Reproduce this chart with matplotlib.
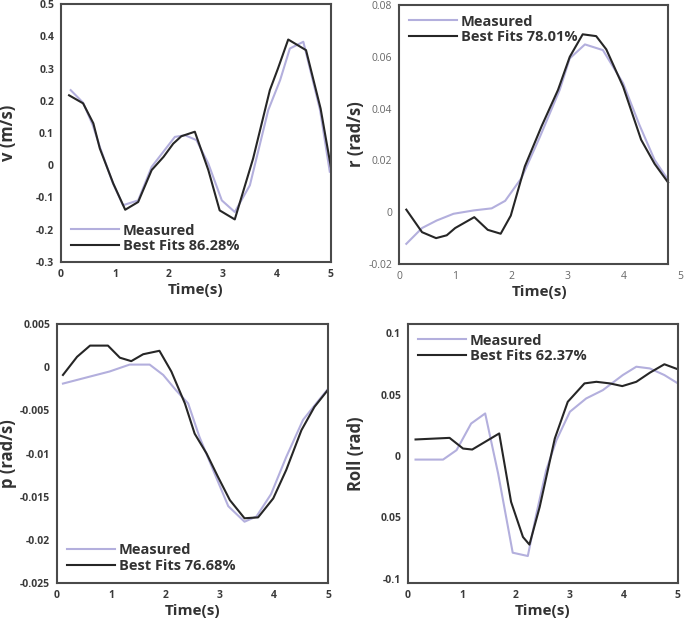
import matplotlib
matplotlib.use('Agg')
import matplotlib.pyplot as plt

plt.rcParams['font.family'] = ['Open Sans', 'DejaVu Sans']

# panel 1: v (m/s)
v_meas_t = [0.18, 0.41, 0.59, 0.72, 0.96, 1.15, 1.43, 1.68, 2.11, 2.30, 2.51, 2.73, 2.98, 3.22, 3.50, 3.84, 4.06, 4.24, 4.49, 4.80, 4.98]
v_meas = [0.233, 0.194, 0.124, 0.057, -0.055, -0.124, -0.109, -0.005, 0.088, 0.093, 0.078, 0.005, -0.109, -0.145, -0.062, 0.171, 0.264, 0.362, 0.383, 0.171, -0.02]
v_fit_t = [0.15, 0.41, 0.60, 0.72, 0.97, 1.19, 1.43, 1.68, 1.90, 2.08, 2.23, 2.48, 2.73, 2.94, 3.22, 3.56, 3.87, 4.02, 4.21, 4.54, 4.81, 5.0]
v_fit = [0.217, 0.192, 0.13, 0.052, -0.057, -0.138, -0.114, -0.015, 0.026, 0.067, 0.09, 0.104, -0.015, -0.14, -0.168, 0.021, 0.233, 0.30, 0.39, 0.357, 0.176, -0.005]

# panel 2: r (rad/s)
r_meas_t = [0.13, 0.41, 0.67, 0.97, 1.33, 1.65, 1.89, 2.18, 2.51, 2.86, 3.04, 3.31, 3.63, 3.99, 4.28, 4.55, 4.79]
r_meas = [-0.0122, -0.0061, -0.0032, -0.0006, 0.0007, 0.0015, 0.0044, 0.0132, 0.0292, 0.0472, 0.0594, 0.0648, 0.0626, 0.0498, 0.0337, 0.0202, 0.0125]
r_fit_t = [0.13, 0.41, 0.66, 0.85, 1.0, 1.34, 1.58, 1.81, 1.99, 2.24, 2.54, 2.83, 3.04, 3.27, 3.51, 3.69, 3.99, 4.31, 4.55, 4.79]
r_fit = [0.001, -0.0077, -0.010, -0.0089, -0.0061, -0.0019, -0.0068, -0.0083, -0.0013, 0.0177, 0.0333, 0.0472, 0.060, 0.0687, 0.068, 0.0629, 0.0485, 0.028, 0.0187, 0.0115]

# panel 3: p (rad/s)
p_meas_t = [0.11, 0.60, 0.97, 1.34, 1.71, 1.96, 2.20, 2.42, 2.63, 2.88, 3.16, 3.46, 3.68, 3.95, 4.23, 4.54, 4.82, 4.99]
p_meas = [-0.0019, -0.0011, -0.0005, 0.0003, 0.0003, -0.0009, -0.0027, -0.0042, -0.0081, -0.0119, -0.0161, -0.0179, -0.0173, -0.0147, -0.0104, -0.0061, -0.0039, -0.0026]
p_fit_t = [0.11, 0.37, 0.61, 0.94, 1.16, 1.37, 1.59, 1.89, 2.11, 2.36, 2.54, 2.76, 2.97, 3.19, 3.46, 3.71, 3.99, 4.23, 4.51, 4.75, 4.99]
p_fit = [-0.0009, 0.0012, 0.0025, 0.0025, 0.0011, 0.0007, 0.0015, 0.0019, -0.0005, -0.0042, -0.0077, -0.0100, -0.0127, -0.0154, -0.0175, -0.0174, -0.0152, -0.0119, -0.0073, -0.0046, -0.0027]

# panel 4: Roll (rad)
roll_meas_t = [0.14, 0.65, 0.90, 1.17, 1.43, 1.67, 1.94, 2.22, 2.38, 2.56, 2.75, 3.0, 3.30, 3.61, 3.98, 4.23, 4.48, 4.75, 5.0]
roll_meas = [-0.0029, -0.0029, 0.0048, 0.0265, 0.0347, -0.0143, -0.0788, -0.0815, -0.0469, -0.0116, 0.0129, 0.0361, 0.0469, 0.0537, 0.066, 0.0728, 0.0714, 0.066, 0.0592]
roll_fit_t = [0.14, 0.77, 1.02, 1.19, 1.69, 1.91, 2.13, 2.25, 2.44, 2.72, 2.96, 3.27, 3.49, 3.74, 3.97, 4.23, 4.48, 4.75, 5.0]
roll_fit = [0.0135, 0.0148, 0.0061, 0.0053, 0.0184, -0.0374, -0.066, -0.0722, -0.0415, 0.0143, 0.0442, 0.0592, 0.0605, 0.0592, 0.057, 0.0605, 0.0679, 0.0748, 0.0707]

x_ticks = [0, 1, 2, 3, 4, 5]
meas_color = '#b3afdd'
fit_color = '#262626'
box_color = '#4a4a4a'

fig = plt.figure(figsize=(6.85, 6.23), dpi=100)

panels = [
    # rect, t_meas, meas, t_fit, fit, ylabel, ylabel x, ylim, yticks, yticklabels, legend text, legend pos, tick weight
    ([0.089, 0.5795, 0.394, 0.414], v_meas_t, v_meas, v_fit_t, v_fit, 'v (m/s)', -0.163,
     (-0.3, 0.5), [-0.3, -0.2, -0.1, 0, 0.1, 0.2, 0.3, 0.4, 0.5],
     ['-0.3', '-0.2', '-0.1', '0', '0.1', '0.2', '0.3', '0.4', '0.5'],
     'Best Fits 86.28%', (0.0, -0.005), 'bold'),
    ([0.5825, 0.5762, 0.410, 0.4157], r_meas_t, r_meas, r_fit_t, r_fit, 'r (rad/s)', -0.121,
     (-0.02, 0.08), [-0.02, 0, 0.02, 0.04, 0.06, 0.08],
     ['-0.02', '0', '0.02', '0.04', '0.06', '0.08'],
     'Best Fits 78.01%', (0.0, 0.81), 'normal'),
    ([0.0832, 0.0642, 0.3956, 0.4157], p_meas_t, p_meas, p_fit_t, p_fit, 'p (rad/s)', -0.148,
     (-0.025, 0.005), [-0.025, -0.02, -0.015, -0.01, -0.005, 0, 0.005],
     ['-0.025', '-0.02', '-0.015', '-0.01', '-0.005', '0', '0.005'],
     'Best Fits 76.68%', (0.0, 0.0), 'bold'),
    ([0.5956, 0.0642, 0.394, 0.4157], roll_meas_t, roll_meas, roll_fit_t, roll_fit, 'Roll (rad)', -0.159,
     (-0.1035, 0.1076), [-0.1, -0.05, 0, 0.05, 0.1],
     ['-0.1', '0.05', '0', '0.05', '0.1'],
     'Best Fits 62.37%', (0.0, 0.81), 'bold'),
]

for i, (rect, tm, ym, tf, yf, ylab, ylab_x, ylim, yt, ytl, leg, leg_pos, tw) in enumerate(panels):
    ax = fig.add_axes(rect)
    ax.plot(tm, ym, color=meas_color, lw=1.5, label='Measured')
    ax.plot(tf, yf, color=fit_color, lw=1.5, label=leg)
    ax.set_xlim(0, 5)
    ax.set_ylim(*ylim)
    ax.set_xticks(x_ticks)
    ax.set_xticklabels([str(x) for x in x_ticks])
    ax.set_yticks(yt)
    ax.set_yticklabels(ytl)
    tick_color = '#3a3a3a' if tw == 'bold' else '#666666'
    ax.tick_params(length=0, labelsize=7.5, colors=tick_color, pad=5)
    for lbl in ax.get_xticklabels() + ax.get_yticklabels():
        lbl.set_fontweight(tw)
    for s in ax.spines.values():
        s.set_color(box_color)
        s.set_linewidth(1.5)
    if i == 1:
        # plot box stops short of the axis end in the original
        ax.spines['right'].set_position(('data', 4.79))
        ax.spines['top'].set_bounds(0, 4.79)
        ax.spines['bottom'].set_bounds(0, 4.79)
    ax.set_xlabel('Time(s)', fontsize=11, fontweight='bold', color='#333333', labelpad=2)
    ax.set_ylabel(ylab, fontsize=12, fontweight='bold', color='#333333')
    ax.yaxis.set_label_coords(ylab_x, 0.5)
    ax.legend(loc='lower left', bbox_to_anchor=leg_pos, frameon=False, handlelength=3.3,
              handletextpad=0.25, labelspacing=0.1, borderaxespad=0.3,
              prop={'size': 10.5, 'weight': 'bold'}, labelcolor='#333333')

fig.savefig('out.png', dpi=100)
